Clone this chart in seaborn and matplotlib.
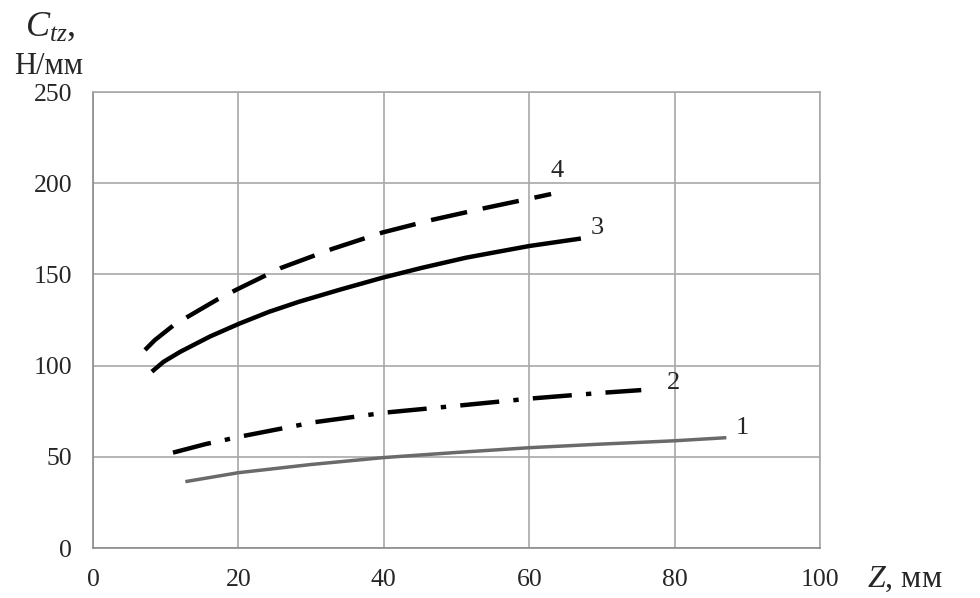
import pandas as pd
import matplotlib
matplotlib.use("Agg")
import matplotlib.pyplot as plt
import seaborn as sns

# Кривые C_tz(Z), значения
z1 = [12.7, 20, 30, 40, 50, 60, 70, 80, 87.1]
c1 = [36.4, 41.3, 45.8, 49.6, 52.4, 55.0, 57.0, 58.8, 60.5]

z2 = [11.0, 15.5, 20.5, 30.3, 40.3, 50.3, 60.3, 70.0, 75.4]
c2 = [52.3, 57.0, 61.3, 68.9, 74.3, 78.1, 82.0, 85.1, 86.6]

z3 = [8.1, 9.7, 12.0, 16.1, 20.1, 24.2, 28.3, 33.9, 39.8, 45.3, 51.3, 55.9, 60.0, 67.1]
c3 = [96.7, 102.1, 107.6, 116.0, 123.0, 129.5, 135.0, 141.6, 148.2, 153.7, 159.2, 162.6, 165.6, 169.7]

z4 = [7.15, 8.5, 11.0, 12.9, 17.2, 19.8, 25.8, 32.9, 39.8, 46.7, 54.0, 60.9, 63.0]
c4 = [108.6, 114.0, 121.9, 126.5, 136.5, 141.8, 153.5, 164.0, 173.0, 180.0, 186.5, 192.3, 194.1]

curve_names = ["1", "2", "3", "4"]
label_pos = {"1": (89.3, 66), "2": (79.8, 90.5), "3": (69.3, 175.5), "4": (63.8, 206.5)}

frames = []
for name, z, c in zip(curve_names, [z1, z2, z3, z4], [c1, c2, c3, c4]):
    frames.append(pd.DataFrame({"Z": z, "C": c, "curve": name}))
df = pd.concat(frames, ignore_index=True)

sns.set_style("white")
plt.rcParams["font.family"] = ["Liberation Serif", "DejaVu Serif"]
plt.rcParams["mathtext.fontset"] = "custom"
plt.rcParams["mathtext.rm"] = "Liberation Serif"
plt.rcParams["mathtext.it"] = "Liberation Serif:italic"

fig = plt.figure(figsize=(9.8, 5.98), dpi=100)
ax = fig.add_axes([0.0949, 0.0836, 0.742, 0.7624])

palette = {"1": "#6a6a6a", "2": "black", "3": "black", "4": "black"}
dashes = {"1": "", "2": (8.8, 3.2, 1.2, 3.2), "3": "", "4": (8.3, 3.6)}
widths = {"1": 2.5, "2": 3.2, "3": 3.2, "4": 3.2}

for name in curve_names:
    sub = df[df["curve"] == name]
    sns.lineplot(data=sub, x="Z", y="C", color=palette[name], ax=ax,
                 linewidth=widths[name], sort=False, estimator=None,
                 dashes=False, legend=False)
    line = ax.lines[-1]
    if dashes[name]:
        line.set_dashes(dashes[name])
    line.set_dash_capstyle("butt")
    line.set_solid_capstyle("butt")
    line.set_solid_joinstyle("round")
    tx, ty = label_pos[name]
    ax.text(tx, ty, name, fontsize=19, ha="center", va="center")

ax.set_xlim(0, 100)
ax.set_ylim(0, 250)
ax.set_xticks(range(0, 101, 20))
ax.set_yticks(range(0, 251, 50))
ax.grid(True, color="#a8a8a8", linewidth=1.2)
for side in ["top", "right", "left", "bottom"]:
    ax.spines[side].set_color("#a8a8a8")
    ax.spines[side].set_linewidth(1.2)
ax.spines["left"].set_color("#8c8c8c")
ax.spines["bottom"].set_color("#8c8c8c")
ax.tick_params(axis="both", which="both", direction="out", length=5,
               width=1.0, color="#8c8c8c", labelsize=18.5)
ax.tick_params(axis="x", pad=10)
ax.tick_params(axis="y", pad=10)
ax.set_xlabel("")
ax.set_ylabel("")

# Подписи осей
fig.text(0.026, 0.941, r"$C_{tz}$,", fontsize=26, ha="left", va="baseline")
fig.text(0.014, 0.876, "Н/мм", fontsize=22, ha="left", va="baseline")
fig.text(0.885, 0.018, r"$Z$, мм", fontsize=23, ha="left", va="baseline")

plt.savefig("out.png", dpi=100)
plt.close()
